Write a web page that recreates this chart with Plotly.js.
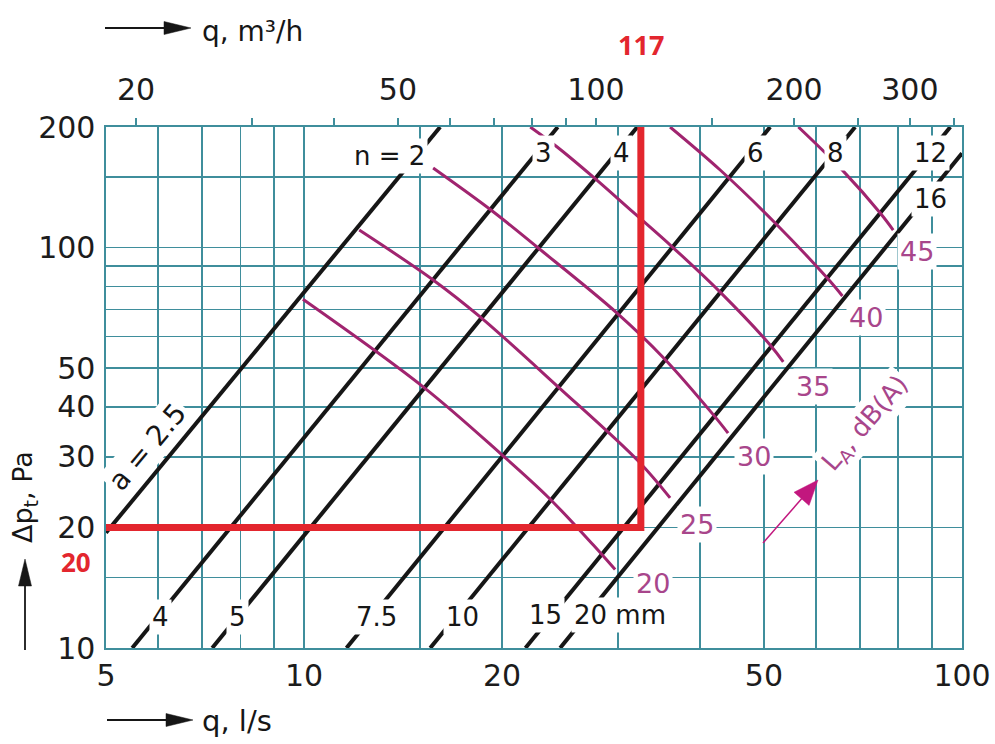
<!DOCTYPE html>
<html>
<head>
<meta charset="utf-8">
<script src="https://cdn.plot.ly/plotly-3.0.1.min.js"></script>
<style>
  html, body { margin: 0; padding: 0; background: #fff; }
  #chart { width: 995px; height: 744px; }
</style>
</head>
<body>
<div id="chart"></div>
<script>
// ---- Units -------------------------------------------------------------
// Flow q in l/s on the bottom axis, m3/h on the top axis; pressure drop in Pa.
const M3H_PER_LS = 3.6;

// ---- Axes ----------------------------------------------------------------
const qTicks   = [5, 6, 7, 8, 9, 10, 15, 20, 30, 40, 50, 60, 70, 80, 90, 100];
const qLabels  = ['5', '', '', '', '', '10', '', '20', '', '', '50', '', '', '', '', '100'];
const q3Ticks  = [20, 30, 40, 50, 60, 70, 80, 90, 100, 150, 200, 250, 300, 350];
const q3Labels = ['20', '', '', '50', '', '', '', '', '100', '', '200', '', '300', ''];
const dpTicks  = [10, 15, 20, 30, 40, 50, 60, 70, 80, 90, 100, 150, 200];
const dpLabels = ['10', '', '20', '30', '40', '50', '', '', '', '', '100', '', '200'];

// ---- Grille lines: slot width a (mm) and slot count n ------------------
const slotWidth  = ['a = 2.5', '4', '5', '7.5', '10', '15', '20 mm'];
const slotCount  = ['n = 2', '3', '4', '6', '8', '12', '16'];
const lineQLow   = [5.0, 5.48, 7.25, 11.6, 15.55, 21.7, 24.5];
const lineDpLow  = [19.4, 10, 10, 10, 10, 10, 10];
const lineQHigh  = [16.1, 24.3, 32.1, 51.1, 68.8, 96.0, 100];
const lineDpHigh = [200, 200, 200, 200, 200, 200, 172];

// ---- Sound power contours L_A, dB(A) -----------------------------------
const soundLevels = ['20', '25', '30', '35', '40', '45'];
const la20Q  = [9.96, 15.17, 19.93, 23.5, 27.5, 29.7];
const la20Dp = [74.3, 44.9, 30.5, 23.8, 18.1, 15.7];
const la25Q  = [12.13, 15.71, 18.52, 24.33, 32.2, 36.0];
const la25Dp = [110.6, 83.0, 67.1, 44.9, 29.3, 23.7];
const la30Q  = [15.71, 19.32, 22.6, 29.9, 35.2, 41.9, 44.1];
const la30Dp = [158, 123.4, 100.3, 68.6, 53.0, 38.2, 34.4];
const la35Q  = [22.07, 24.25, 27.5, 31.6, 36.3, 42.9, 51.1, 53.5];
const la35Dp = [200, 178.3, 150.1, 122.7, 100.3, 77.4, 57.1, 51.8];
const la40Q  = [36.0, 42.9, 52.0, 62.4, 65.8];
const la40Dp = [200, 156.2, 115.2, 83.9, 75.7];
const la45Q  = [56.4, 66.0, 75.1, 78.6];
const la45Dp = [200, 155.2, 122.0, 110.6];

// ---- Worked example: operating point -----------------------------------
const exampleFlowM3h = 117;
const examplePressure = 20;

// ---- Styling -------------------------------------------------------------
const FONT = 'DejaVu Sans, Liberation Sans, sans-serif';
const GRID = '#3f8e9c';
const INK = '#161616';
const PURPLE = '#a0246f';
const PURPLE_TXT = '#a8468b';
const RED = '#e3262e';

const qMin = 5, qMax = 100, dpMin = 10, dpMax = 200;
const PLOT = { left: 106, top: 127, width: 856, height: 521 };
const fx = px => (px - PLOT.left) / PLOT.width;
const fy = py => (PLOT.top + PLOT.height - py) / PLOT.height;
const lg = Math.log10;

const traces = [];

// straight grille lines (Δp ∝ q² appears straight on log-log)
for (let i = 0; i < slotCount.length; i++) {
  traces.push({
    x: [lineQLow[i], lineQHigh[i]],
    y: [lineDpLow[i], lineDpHigh[i]],
    mode: 'lines', type: 'scatter', hoverinfo: 'skip',
    line: { color: INK, width: 4 }
  });
}

// sound level contours
const laQ  = [la20Q, la25Q, la30Q, la35Q, la40Q, la45Q];
const laDp = [la20Dp, la25Dp, la30Dp, la35Dp, la40Dp, la45Dp];
for (let i = 0; i < laQ.length; i++) {
  traces.push({
    x: laQ[i], y: laDp[i],
    mode: 'lines', type: 'scatter', hoverinfo: 'skip',
    line: { color: PURPLE, width: 3, shape: 'spline', smoothing: 1 }
  });
}

// operating point: 117 m3/h at 20 Pa, drawn on the m3/h axis
traces.push({
  x: [qMin * M3H_PER_LS, exampleFlowM3h, exampleFlowM3h],
  y: [examplePressure, examplePressure, dpMax],
  xaxis: 'x2', mode: 'lines', type: 'scatter', hoverinfo: 'skip',
  line: { color: RED, width: 7 }
});

// ---- Annotations ----------------------------------------------------------
const annotations = [];
function label(text, q, dp, opts) {
  annotations.push(Object.assign({
    text, x: lg(q), y: lg(dp), xref: 'x', yref: 'y', showarrow: false,
    font: { family: FONT, size: 26, color: INK },
    bgcolor: '#ffffff', borderpad: 2
  }, opts || {}));
}

// n labels near the top ends of the grille lines
const nPos = [[13.5, 169], [23.1, 172], [30.4, 172], [48.5, 172], [64.2, 172], [89.5, 172], [89.5, 132]];
slotCount.forEach((t, i) => label(t, nPos[i][0], nPos[i][1]));

// a labels near the bottom ends
const aPos = [[5.79, 31.8], [6.04, 11.96], [7.91, 11.96], [12.9, 11.96], [17.4, 11.96], [23.3, 12.1], [30.2, 12.1]];
slotWidth.forEach((t, i) => label(t, aPos[i][0], aPos[i][1],
  i === 0 ? { textangle: -50, font: { family: FONT, size: 28, color: INK } } : {}));

// contour values
const laPos = [[33.9, 14.5], [39.6, 20.3], [48.3, 30.0], [59.4, 45.1], [71.5, 66.7], [85.5, 97.5]];
soundLevels.forEach((t, i) => label(t, laPos[i][0], laPos[i][1], {
  font: { family: FONT, size: 27, color: PURPLE_TXT }
}));

// contour family title
label('L<sub>A</sub>, dB(A)', 71.5, 36.3, {
  textangle: -49, font: { family: FONT, size: 26, color: PURPLE_TXT }
});

// axis titles
annotations.push({
  text: 'q, m³/h', xref: 'paper', yref: 'paper', x: fx(200), y: fy(31),
  xanchor: 'left', yanchor: 'middle', showarrow: false,
  font: { family: FONT, size: 28, color: INK }
});
annotations.push({
  text: 'q, l/s', xref: 'paper', yref: 'paper', x: fx(200), y: fy(721),
  xanchor: 'left', yanchor: 'middle', showarrow: false,
  font: { family: FONT, size: 29, color: INK }
});
annotations.push({
  text: 'Δp<sub>t</sub>, Pa', xref: 'paper', yref: 'paper', x: fx(24), y: fy(497),
  xanchor: 'center', yanchor: 'middle', showarrow: false, textangle: -90,
  font: { family: FONT, size: 27, color: INK }
});

// operating point values
annotations.push({
  text: '<b>' + exampleFlowM3h + '</b>', xref: 'x2', yref: 'paper',
  x: lg(exampleFlowM3h), y: fy(44), xanchor: 'center', yanchor: 'middle', showarrow: false,
  font: { family: 'Open Sans, Liberation Sans, sans-serif', size: 27, color: RED }
});
annotations.push({
  text: '<b>' + examplePressure + '</b>', xref: 'paper', yref: 'paper',
  x: fx(76), y: fy(562), xanchor: 'center', yanchor: 'middle', showarrow: false,
  font: { family: 'Open Sans, Liberation Sans, sans-serif', size: 26, color: RED }
});

// ---- Arrows (pixel geometry converted to paper fractions) ----------------
function arrow(x0, y0, x1, y1, len, half, color, w) {
  const dx = x1 - x0, dy = y1 - y0, L = Math.hypot(dx, dy);
  const ux = dx / L, uy = dy / L, nx = -uy, ny = ux;
  const bx = x1 - ux * len, by = y1 - uy * len;
  return [
    { type: 'line', xref: 'paper', yref: 'paper', layer: 'above',
      x0: fx(x0), y0: fy(y0), x1: fx(bx + ux * 2), y1: fy(by + uy * 2),
      line: { color, width: w } },
    { type: 'path', xref: 'paper', yref: 'paper', layer: 'above',
      path: `M${fx(x1)},${fy(y1)} L${fx(bx + nx * half)},${fy(by + ny * half)} L${fx(bx - nx * half)},${fy(by - ny * half)} Z`,
      fillcolor: color, line: { color, width: 0.5 } }
  ];
}
const shapes = [].concat(
  arrow(105, 28, 191, 28, 27, 6.5, INK, 1.8),
  arrow(107, 720, 193, 720, 27, 6.5, INK, 1.8),
  arrow(25, 650, 25, 559, 27, 6.5, INK, 1.8),
  arrow(763, 543, 818, 480, 25, 10, '#c2177e', 1.5)
);

// ---- Layout -------------------------------------------------------------------
const tickFont = { family: FONT, size: 30, color: '#1c1c1c' };
const layout = {
  width: 995, height: 744,
  margin: { l: PLOT.left, r: 995 - PLOT.left - PLOT.width, t: PLOT.top, b: 744 - PLOT.top - PLOT.height, pad: 0 },
  paper_bgcolor: '#ffffff', plot_bgcolor: '#ffffff',
  showlegend: false,
  xaxis: {
    type: 'log', range: [lg(qMin), lg(qMax)],
    tickmode: 'array', tickvals: qTicks, ticktext: qLabels,
    showgrid: true, gridcolor: GRID, gridwidth: 1.6,
    showline: true, linecolor: GRID, linewidth: 1.6, mirror: true,
    ticks: '', zeroline: false, tickfont: tickFont, ticklabelstandoff: 0
  },
  xaxis2: {
    type: 'log', overlaying: 'x', side: 'top', anchor: 'y',
    range: [lg(qMin * M3H_PER_LS), lg(qMax * M3H_PER_LS)],
    tickmode: 'array', tickvals: q3Ticks, ticktext: q3Labels,
    showgrid: false, showline: false, zeroline: false,
    ticks: 'outside', ticklen: 8, tickwidth: 1.5, tickcolor: GRID,
    tickfont: tickFont, ticklabelstandoff: 6
  },
  yaxis: {
    type: 'log', range: [lg(dpMin), lg(dpMax)],
    tickmode: 'array', tickvals: dpTicks, ticktext: dpLabels,
    showgrid: true, gridcolor: GRID, gridwidth: 1.6,
    showline: true, linecolor: GRID, linewidth: 1.6, mirror: true,
    ticks: '', zeroline: false, tickfont: tickFont, ticklabelstandoff: 3
  },
  annotations, shapes
};

Plotly.newPlot('chart', traces, layout, { displayModeBar: false, staticPlot: true });
</script>
</body>
</html>
